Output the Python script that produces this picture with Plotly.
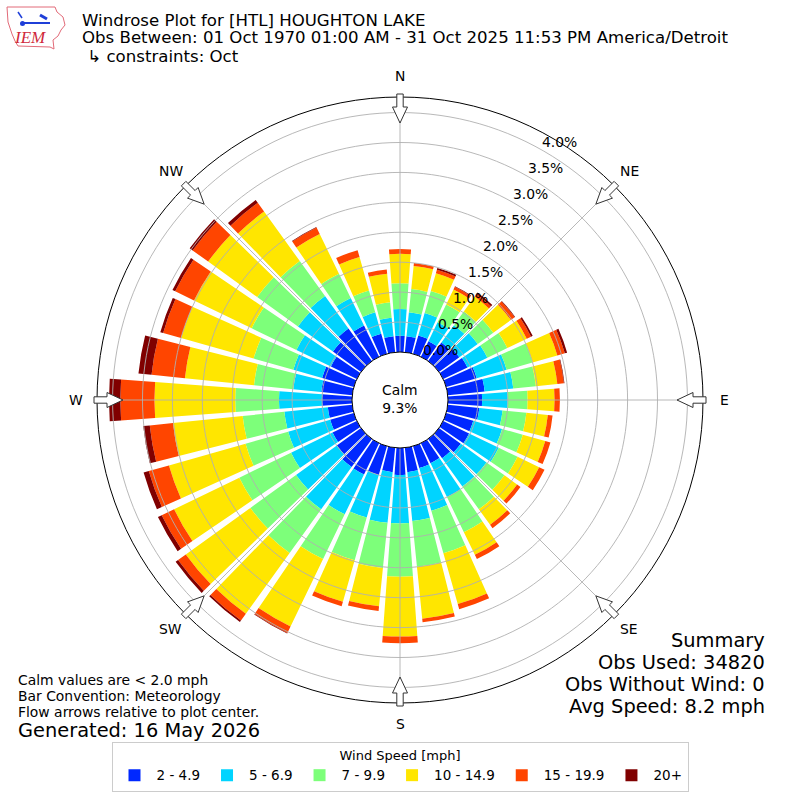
import math
import plotly.graph_objects as go

# ---------------- data ----------------
directions = list(range(0, 360, 10))
speed_labels = ["2 - 4.9", "5 - 6.9", "7 - 9.9", "10 - 14.9", "15 - 19.9", "20+"]
speed_colors = ["#0028ff", "#00d4ff", "#7dff7a", "#ffe600", "#ff4500", "#800000"]

# frequency (%) per direction bin (0, 10, ..., 350 degrees)
freq_2_5 = [0.27, 0.27, 0.32, 0.29, 0.38, 0.42, 0.45, 0.53, 0.62, 0.57,
            0.53, 0.47, 0.48, 0.45, 0.40, 0.37, 0.38, 0.41, 0.45, 0.41,
            0.50, 0.58, 0.58, 0.50, 0.45, 0.41, 0.41, 0.50, 0.52, 0.55,
            0.48, 0.58, 0.67, 0.58, 0.35, 0.27]
freq_5_7 = [0.45, 0.40, 0.39, 0.35, 0.36, 0.38, 0.37, 0.52, 0.48, 0.43,
            0.39, 0.50, 0.55, 0.53, 0.58, 0.63, 0.74, 0.82, 0.81, 0.85,
            0.74, 0.74, 0.87, 0.84, 0.77, 0.73, 0.73, 0.72, 0.47, 0.50,
            0.64, 0.72, 0.67, 0.51, 0.37, 0.31]
freq_7_10 = [0.43, 0.39, 0.38, 0.33, 0.28, 0.32, 0.37, 0.45, 0.38, 0.33,
             0.40, 0.36, 0.35, 0.37, 0.47, 0.65, 0.74, 0.77, 0.89, 0.76,
             0.74, 0.83, 0.90, 0.94, 0.96, 0.74, 0.70, 0.73, 0.66, 0.69,
             0.83, 0.84, 0.72, 0.45, 0.38, 0.26]
freq_10_15 = [0.49, 0.39, 0.31, 0.28, 0.31, 0.36, 0.36, 0.43, 0.36, 0.45,
              0.36, 0.39, 0.40, 0.26, 0.32, 0.42, 0.88, 0.87, 1.00, 0.64,
              0.72, 1.25, 1.25, 1.33, 1.21, 1.33, 1.17, 1.35, 1.16, 1.26,
              1.07, 1.01, 1.02, 0.74, 0.58, 0.48]
freq_15_20 = [0.08, 0.05, 0.06, 0.05, 0.05, 0.08, 0.08, 0.13, 0.11, 0.09,
              0.08, 0.09, 0.10, 0.07, 0.07, 0.08, 0.09, 0.06, 0.11, 0.08,
              0.08, 0.12, 0.14, 0.16, 0.23, 0.35, 0.39, 0.57, 0.56, 0.31,
              0.35, 0.32, 0.18, 0.12, 0.12, 0.07]
freq_20p = [0.00, 0.00, 0.03, 0.01, 0.03, 0.01, 0.03, 0.04, 0.01, 0.00,
            0.00, 0.00, 0.00, 0.00, 0.00, 0.00, 0.00, 0.00, 0.00, 0.00,
            0.00, 0.01, 0.03, 0.05, 0.07, 0.09, 0.11, 0.19, 0.22, 0.05,
            0.05, 0.06, 0.06, 0.01, 0.00, 0.00]
series = [freq_2_5, freq_5_7, freq_7_10, freq_10_15, freq_15_20, freq_20p]

radial_ticks = [0.0, 0.5, 1.0, 1.5, 2.0, 2.5, 3.0, 3.5, 4.0]
radial_tick_labels = ["0.0%", "0.5%", "1.0%", "1.5%", "2.0%", "2.5%", "3.0%", "3.5%", "4.0%"]
compass_labels = ["N", "NE", "E", "SE", "S", "SW", "W", "NW"]
compass_angles = [0, 45, 90, 135, 180, 225, 270, 315]
calm_pct = "9.3%"

# ---------------- geometry / style ----------------
W = H = 800
CX, CY = 400, 400
R_OUT = 303.0
R_HOLE = 48.0
RMAX = 4.26
PX_PER = (R_OUT - R_HOLE) / RMAX
FONT = "DejaVu Sans"
GRID = "#b0b0b0"


def paper(px, py):
    return px / W, 1 - py / H


def note(px, py, text, size, xanchor="center", height=None, **font):
    x, y = paper(px, py)
    d = dict(x=x, y=y, xref="paper", yref="paper", text=text, showarrow=False,
             xanchor=xanchor, yanchor="middle",
             font=dict(family=font.pop("family", FONT), size=size,
                       color=font.pop("color", "black")))
    if height is not None:
        d["height"] = height
    return d


fig = go.Figure()

for name, vals, col in zip(speed_labels, series, speed_colors):
    fig.add_trace(go.Barpolar(
        r=vals, theta=directions, name=name, width=8.4,
        marker=dict(color=col, line=dict(width=0)),
        hoverinfo="skip",
    ))

# grid drawn above the bars
circ = list(range(0, 361, 2))
for v in radial_ticks[1:]:
    fig.add_trace(go.Scatterpolar(
        r=[v] * len(circ), theta=circ, mode="lines",
        line=dict(color=GRID, width=0.9), showlegend=False, hoverinfo="skip"))
for a in compass_angles:
    fig.add_trace(go.Scatterpolar(
        r=[0, RMAX], theta=[a, a], mode="lines",
        line=dict(color=GRID, width=0.9), showlegend=False, hoverinfo="skip"))

dom = [(CX - R_OUT) / W, (CX + R_OUT) / W]
fig.update_layout(
    width=W, height=H,
    margin=dict(l=0, r=0, t=0, b=0),
    paper_bgcolor="white",
    font=dict(family=FONT, color="black"),
    polar=dict(
        domain=dict(x=dom, y=dom),
        hole=R_HOLE / R_OUT,
        bgcolor="white",
        barmode="stack",
        radialaxis=dict(range=[0, RMAX], showgrid=False, showticklabels=False,
                        ticks="", showline=False),
        angularaxis=dict(rotation=90, direction="clockwise", showgrid=False,
                         showticklabels=False, ticks="", showline=True,
                         linecolor="black", linewidth=1),
    ),
    legend=dict(
        orientation="h", x=0.5, xanchor="center", y=1 - 742 / H, yanchor="top",
        title=dict(text="Wind Speed [mph]", side="top center",
                   font=dict(family=FONT, size=13)),
        font=dict(family=FONT, size=13.5), bordercolor="#cccccc", borderwidth=1,
        bgcolor="white", traceorder="normal", itemwidth=34,
    ),
)

annotations = []
shapes = []

# radial tick labels (placed along the label ray, scaled like the radial axis)
for v, lab in zip(radial_ticks, radial_tick_labels):
    d = (R_HOLE + 15.8) + PX_PER * v
    rad = math.hypot(d, 10.7)
    ang = math.radians(29.8 + math.degrees(math.atan2(10.7, d)))
    annotations.append(note(CX + rad * math.sin(ang), CY - rad * math.cos(ang), lab, 13.9))

# compass labels and flow arrows
for lab, a in zip(compass_labels, compass_angles):
    s, c = math.sin(math.radians(a)), math.cos(math.radians(a))
    annotations.append(note(CX + 324 * s, CY - 324 * c, lab, 13.9))
    ux, uy = s, -c          # outward
    qx, qy = c, s           # perpendicular

    def pt(rr, off):
        return paper(CX + rr * ux + off * qx, CY + rr * uy + off * qy)
    pts = [pt(277, 0), pt(293, 7.5), pt(293, 3.2), pt(306, 3.2),
           pt(306, -3.2), pt(293, -3.2), pt(293, -7.5)]
    path = "M " + " L ".join(f"{p[0]:.5f},{p[1]:.5f}" for p in pts) + " Z"
    shapes.append(dict(type="path", xref="paper", yref="paper", path=path,
                       fillcolor="white", line=dict(color="#333333", width=1)))

# calm text
annotations.append(note(CX, CY - 1, "Calm<br>" + calm_pct, 13.9))

# header
for txt, py in [("Windrose Plot for [HTL] HOUGHTON LAKE", 20),
                ("Obs Between: 01 Oct 1970 01:00 AM - 31 Oct 2025 11:53 PM America/Detroit", 38),
                (" \u21b3 constraints: Oct", 56)]:
    annotations.append(note(80, py, txt, 16.6, xanchor="left", height=17))

# bottom-left notes
for txt, py, sz in [("Calm values are < 2.0 mph", 680, 13.9),
                    ("Bar Convention: Meteorology", 696, 13.9),
                    ("Flow arrows relative to plot center.", 712, 13.9),
                    ("Generated: 16 May 2026", 730, 19.4)]:
    annotations.append(note(16, py, txt, sz, xanchor="left"))

# summary
for txt, py in [("Summary", 640), ("Obs Used: 34820", 662),
                ("Obs Without Wind: 0", 684), ("Avg Speed: 8.2 mph", 706)]:
    annotations.append(note(767, py, txt, 19.4, xanchor="right"))

# IEM logo (approximation)
iowa = [(7, 7), (55, 7), (57, 12), (63, 17), (65, 25), (61, 30), (58, 36),
        (53, 40), (54, 49), (50, 47), (18, 46), (15, 41), (12, 34), (8, 22)]
path = "M " + " L ".join("{:.5f},{:.5f}".format(*paper(px, py)) for px, py in iowa) + " Z"
shapes.append(dict(type="path", xref="paper", yref="paper", path=path,
                   line=dict(color="#e26a78", width=1)))
x0, y0 = paper(22, 23)
x1, y1 = paper(50, 23)
shapes.append(dict(type="line", xref="paper", yref="paper", x0=x0, y0=y0, x1=x1, y1=y1,
                   line=dict(color="#1f3fd8", width=2)))
x0, y0 = paper(20, 21)
x1, y1 = paper(25, 26)
shapes.append(dict(type="circle", xref="paper", yref="paper", x0=x0, y0=y0, x1=x1, y1=y1,
                   fillcolor="#1f3fd8", line=dict(width=0)))
x0, y0 = paper(40, 15)
x1, y1 = paper(47, 19)
shapes.append(dict(type="line", xref="paper", yref="paper", x0=x0, y0=y0, x1=x1, y1=y1,
                   line=dict(color="#1f3fd8", width=3)))
x0, y0 = paper(18, 12)
x1, y1 = paper(22, 18)
shapes.append(dict(type="line", xref="paper", yref="paper", x0=x0, y0=y0, x1=x1, y1=y1,
                   line=dict(color="#1f3fd8", width=1.5)))
annotations.append(note(30, 37, "<i>IEM</i>", 17, family="Liberation Serif",
                        color="#d0283a"))

fig.update_layout(annotations=annotations, shapes=shapes)

fig.write_html("out.html", config={"displayModeBar": False},
               post_script="document.body.style.margin='0';")
